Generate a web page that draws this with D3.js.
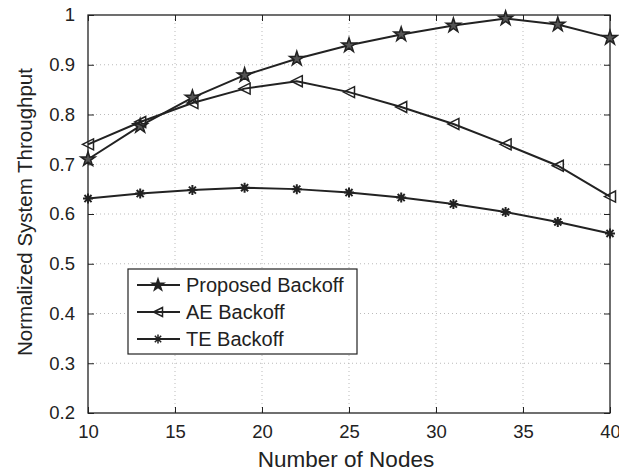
<!DOCTYPE html>
<html>
<head>
<meta charset="utf-8">
<script src="https://cdn.jsdelivr.net/npm/d3@7"></script>
<style>
  body { margin: 0; background: #fff; }
  text { font-family: "Liberation Sans", Arial, sans-serif; fill: #222; }
</style>
</head>
<body>
<svg id="chart" width="619" height="472"></svg>
<script>
'use strict';
// data
var nodes = [10, 13, 16, 19, 22, 25, 28, 31, 34, 37, 40];
var proposed = [0.710, 0.777, 0.834, 0.879, 0.912, 0.939, 0.961, 0.979, 0.993, 0.981, 0.954];
var aeBackoff = [0.740, 0.785, 0.823, 0.852, 0.867, 0.845, 0.815, 0.781, 0.740, 0.697, 0.635];
var teBackoff = [0.631, 0.641, 0.648, 0.653, 0.650, 0.643, 0.633, 0.620, 0.604, 0.584, 0.561];
var seriesNames = ['Proposed Backoff', 'AE Backoff', 'TE Backoff'];
var seriesMarkers = ['star', 'triangle', 'asterisk'];
var xTicks = [10, 15, 20, 25, 30, 35, 40];
var yTicks = [0.2, 0.3, 0.4, 0.5, 0.6, 0.7, 0.8, 0.9, 1];

var margin = { left: 88, top: 15, right: 9, bottom: 59 };
var width = 619 - margin.left - margin.right;
var height = 472 - margin.top - margin.bottom;
var ink = '#222';

var svg = d3.select('#chart');
var g = svg.append('g').attr('transform', 'translate(' + margin.left + ',' + margin.top + ')');

var x = d3.scaleLinear().domain([10, 40]).range([0, width]);
var y = d3.scaleLinear().domain([0.2, 1]).range([height, 0]);

// dotted grid
g.append('g').selectAll('line.gx').data(xTicks.slice(1, -1)).enter().append('line')
    .attr('x1', function(d) { return x(d); }).attr('x2', function(d) { return x(d); })
    .attr('y1', 0).attr('y2', height)
    .style('stroke', '#bbb').style('stroke-width', 1).style('stroke-dasharray', '1,3');
g.append('g').selectAll('line.gy').data(yTicks.slice(1, -1)).enter().append('line')
    .attr('y1', function(d) { return y(d); }).attr('y2', function(d) { return y(d); })
    .attr('x1', 0).attr('x2', width)
    .style('stroke', '#bbb').style('stroke-width', 1).style('stroke-dasharray', '1,3');

// axes, ticks pointing inward on all four sides
function styleAxis(sel) {
    sel.select('.domain').remove();
    sel.selectAll('line').style('stroke', ink).style('stroke-width', 1);
    sel.selectAll('text').style('font-size', '18.5px').style('fill', ink);
}
g.append('g').attr('transform', 'translate(0,' + height + ')')
    .call(d3.axisBottom(x).tickValues(xTicks).tickSizeInner(-6).tickSizeOuter(0).tickPadding(12))
    .call(styleAxis);
g.append('g')
    .call(d3.axisTop(x).tickValues(xTicks).tickSizeInner(-6).tickSizeOuter(0).tickFormat(''))
    .call(styleAxis);
g.append('g')
    .call(d3.axisLeft(y).tickValues(yTicks).tickSizeInner(-6).tickSizeOuter(0).tickPadding(13)
        .tickFormat(function(d) { return d === 1 ? '1' : d3.format('.1f')(d); }))
    .call(styleAxis);
g.append('g').attr('transform', 'translate(' + width + ',0)')
    .call(d3.axisRight(y).tickValues(yTicks).tickSizeInner(-6).tickSizeOuter(0).tickFormat(''))
    .call(styleAxis);
g.append('rect').attr('width', width).attr('height', height)
    .style('fill', 'none').style('stroke', ink).style('stroke-width', 1.3);

// markers, r is the rough half-width in px
function markerPath(type, r) {
    if (type === 'star') return d3.symbol().type(d3.symbolStar).size(r * r / 0.891)();
    if (type === 'triangle') {
        return 'M' + (-r) + ',0L' + r + ',' + (-r) + 'L' + r + ',' + r + 'Z';
    }
    var p = [];
    for (var k = 0; k < 4; k++) {
        var t = k * Math.PI / 4;
        p.push('M' + (-r * Math.cos(t)) + ',' + (-r * Math.sin(t)) + 'L' + (r * Math.cos(t)) + ',' + (r * Math.sin(t)));
    }
    return p.join('');
}

var line = d3.line().x(function(d) { return x(d[0]); }).y(function(d) { return y(d[1]); });
var markerSize = { star: 7.5, triangle: 5.5, asterisk: 5 };
[proposed, aeBackoff, teBackoff].forEach(function(vals, i) {
    var pts = nodes.map(function(n, j) { return [n, vals[j]]; });
    var m = seriesMarkers[i];
    g.append('path').datum(pts).attr('d', line)
        .style('fill', 'none').style('stroke', ink).style('stroke-width', 2);
    g.append('g').selectAll('path').data(pts).enter().append('path')
        .attr('transform', function(d) { return 'translate(' + x(d[0]) + ',' + y(d[1]) + ')'; })
        .attr('d', markerPath(m, markerSize[m]))
        .style('fill', m === 'star' ? '#555' : 'none')
        .style('stroke', ink).style('stroke-width', m === 'asterisk' ? 2 : 1.5);
});

// legend
var lg = svg.append('g').attr('transform', 'translate(128,269)');
lg.append('rect').attr('width', 229).attr('height', 85)
    .style('fill', '#fff').style('stroke', ink).style('stroke-width', 1.2);
seriesNames.forEach(function(name, i) {
    var m = seriesMarkers[i];
    var row = lg.append('g').attr('transform', 'translate(0,' + (16 + i * 27) + ')');
    row.append('line').attr('x1', 9).attr('x2', 52).attr('y1', 0).attr('y2', 0)
        .style('stroke', ink).style('stroke-width', 2);
    row.append('path').attr('transform', 'translate(30,0)')
        .attr('d', markerPath(m, m === 'star' ? 6 : 4.5))
        .style('fill', m === 'star' ? ink : 'none')
        .style('stroke', ink).style('stroke-width', 1.5);
    row.append('text').attr('x', 58).attr('y', 0).attr('dy', '0.35em')
        .style('font-size', '20px').text(name);
});

// axis titles
svg.append('text').attr('x', 346).attr('y', 467)
    .attr('text-anchor', 'middle').style('font-size', '22.5px').text('Number of Nodes');
svg.append('text').attr('transform', 'translate(32,212) rotate(-90)')
    .attr('text-anchor', 'middle').style('font-size', '20.5px').text('Normalized System Throughput');
</script>
</body>
</html>
